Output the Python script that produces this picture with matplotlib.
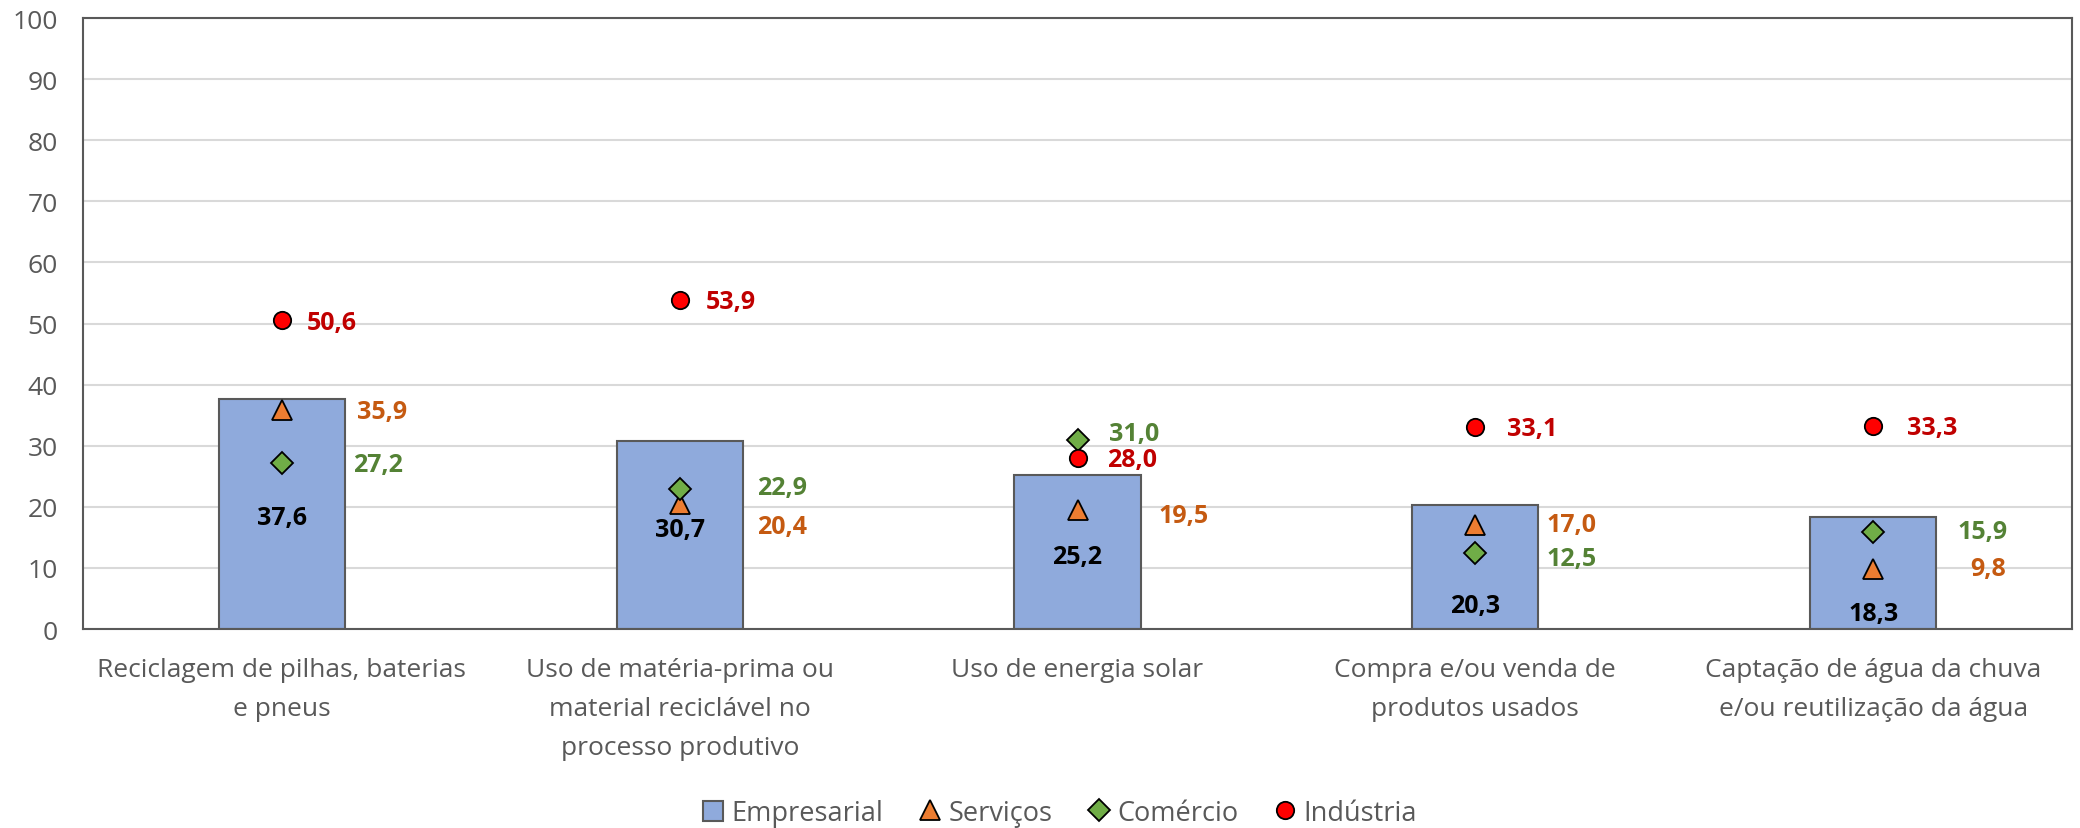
import matplotlib.pyplot as plt
import numpy as np

plt.rcParams['font.family'] = ['Open Sans', 'DejaVu Sans']

categorias = ['Reciclagem de pilhas, baterias\ne pneus',
              'Uso de matéria-prima ou\nmaterial reciclável no\nprocesso produtivo',
              'Uso de energia solar',
              'Compra e/ou venda de\nprodutos usados',
              'Captação de água da chuva\ne/ou reutilização da água']
empresarial = [37.6, 30.7, 25.2, 20.3, 18.3]
servicos = [35.9, 20.4, 19.5, 17.0, 9.8]
comercio = [27.2, 22.9, 31.0, 12.5, 15.9]
industria = [50.6, 53.9, 28.0, 33.1, 33.3]

# label placement (y for bar labels, pixel offsets for marker labels)
bar_label_y = [18.2, 16.3, 11.8, 3.9, 2.5]
serv_off = [(75, -2), (77, -22), (81, -6), (71, 1), (97, 1)]
com_off = [(71, -2), (77, 2), (31, 6), (71, -6), (84, 0)]
ind_off = [(25, -3), (26, -2), (30, -2), (32, -2), (34, -2)]

fmt = lambda v: f'{v:.1f}'.replace('.', ',')

fig = plt.figure(figsize=(20.8, 8.29), dpi=100)
ax = fig.add_axes([0.0399, 0.240, 0.9563, 0.737])
x = np.arange(len(categorias))

h_bar = ax.bar(x, empresarial, width=0.317, color='#8FAADC', edgecolor='#595959',
               linewidth=1.5, label='Empresarial', zorder=2)
h_serv, = ax.plot(x, servicos, '^', ms=14, color='#ED7D31', mec='black', mew=1.3,
                  label='Serviços', zorder=3)
h_com, = ax.plot(x, comercio, 'D', ms=11, color='#70AD47', mec='black', mew=1.3,
                 label='Comércio', zorder=3)
h_ind, = ax.plot(x, industria, 'o', ms=12.5, color='#FF0000', mec='black', mew=1.3,
                 label='Indústria', zorder=3)

lsize = 18
for i in x:
    ax.text(i, bar_label_y[i], fmt(empresarial[i]), ha='center', va='center',
            fontsize=lsize, fontweight='bold', color='black', zorder=4)
    ax.annotate(fmt(servicos[i]), (i, servicos[i]), xytext=serv_off[i],
                textcoords='offset pixels', ha='left', va='center',
                fontsize=lsize, fontweight='bold', color='#C55A11')
    ax.annotate(fmt(comercio[i]), (i, comercio[i]), xytext=com_off[i],
                textcoords='offset pixels', ha='left', va='center',
                fontsize=lsize, fontweight='bold', color='#548235')
    ax.annotate(fmt(industria[i]), (i, industria[i]), xytext=ind_off[i],
                textcoords='offset pixels', ha='left', va='center',
                fontsize=lsize, fontweight='bold', color='#C00000')

ax.set_xlim(-0.5, len(categorias) - 0.5)
ax.set_ylim(0, 100)
ax.set_yticks(range(0, 101, 10))
ax.set_xticks(x)
ax.set_xticklabels(categorias, fontsize=19, color='#595959', linespacing=1.75)
ax.tick_params(axis='y', labelsize=19, labelcolor='#595959', length=0, pad=18)
ax.tick_params(axis='x', length=0, pad=20)
ax.grid(axis='y', color='#D9D9D9', linewidth=1.5, zorder=0)
ax.set_axisbelow(True)
for s in ax.spines.values():
    s.set_color('#595959')
    s.set_linewidth(1.5)

fig.legend(handles=[h_bar, h_serv, h_com, h_ind], loc='center',
           bbox_to_anchor=(0.5096, 0.018), ncol=4, frameon=False,
           fontsize=19.5, labelcolor='#595959', handletextpad=0.3,
           columnspacing=1.35, handlelength=0.75, handleheight=0.75)

fig.savefig('out.png', dpi=100)
